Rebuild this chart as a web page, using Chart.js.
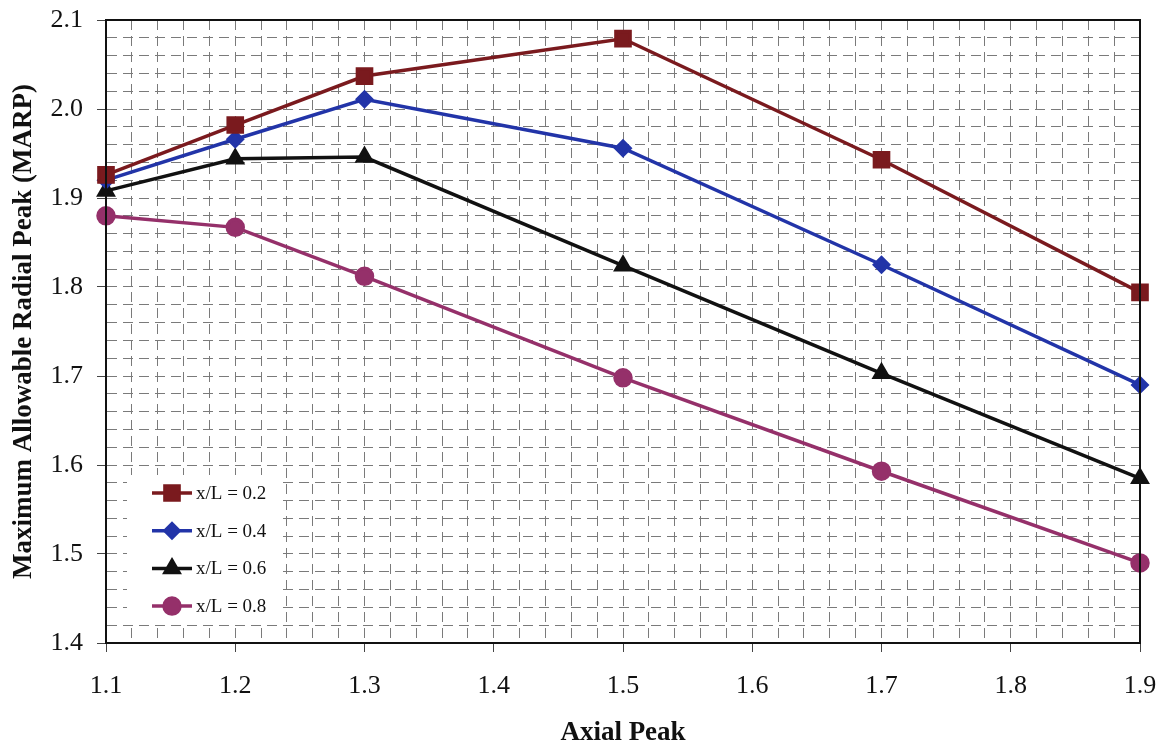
<!DOCTYPE html>
<html>
<head>
<meta charset="utf-8">
<script src="https://cdn.jsdelivr.net/npm/chart.js@4"></script>
<style>
  html, body { margin: 0; padding: 0; background: #fff; }
  #wrap { width: 1166px; height: 743px; }
</style>
</head>
<body>
<div id="wrap"><canvas id="chart"></canvas></div>
<script>
// data
const axialPeak = [1.1, 1.2, 1.3, 1.5, 1.7, 1.9];
const seriesLabels = ['x/L = 0.2', 'x/L = 0.4', 'x/L = 0.6', 'x/L = 0.8'];
const marpXL02 = [1.926, 1.982, 2.037, 2.079, 1.943, 1.794];
const marpXL04 = [1.920, 1.966, 2.011, 1.956, 1.825, 1.690];
const marpXL06 = [1.908, 1.944, 1.946, 1.824, 1.703, 1.585];
const marpXL08 = [1.880, 1.867, 1.812, 1.698, 1.593, 1.490];

const colors = ['#7a1a1e', '#2234a8', '#111111', '#95306a'];
const markers = ['rect', 'rectRot', 'triangle', 'circle'];
const radii = [10, 7, 8, 8];
const allSeries = [marpXL02, marpXL04, marpXL06, marpXL08];

const isMajor = v => Math.round(v * 100) % 10 === 0;

// black frame round the plot + legend box inside the plot
const framePlugin = {
    id: 'frame',
    afterDraw(chart) {
        const ctx = chart.ctx;
        const a = chart.chartArea;
        ctx.save();
        ctx.strokeStyle = '#111';
        ctx.lineWidth = 2;
        ctx.strokeRect(a.left, a.top, a.right - a.left, a.bottom - a.top);

        // legend
        const lx = a.left + 21, ly = a.bottom - 168;
        ctx.fillStyle = '#fff';
        ctx.fillRect(lx, ly, 156, 147);
        ctx.font = '19px "Liberation Serif"';
        ctx.textBaseline = 'middle';
        chart.data.datasets.forEach((ds, i) => {
            const y = ly + 18 + i * 37.7;
            const x0 = lx + 25, x1 = lx + 65;
            ctx.strokeStyle = ds.borderColor;
            ctx.lineWidth = 3.5;
            ctx.beginPath();
            ctx.moveTo(x0, y);
            ctx.lineTo(x1, y);
            ctx.stroke();
            Chart.helpers.drawPoint(ctx, {
                pointStyle: ds.pointStyle, radius: ds.pointRadius, rotation: 0, borderWidth: 1
            }, (x0 + x1) / 2, y);
            ctx.fillStyle = ds.borderColor;
            ctx.fill();
            ctx.fillStyle = '#111';
            ctx.fillText(ds.label, x1 + 4, y + 1);
        });
        ctx.restore();
    }
};

const ctx = document.getElementById('chart').getContext('2d');
const chart = new Chart(ctx, {
    type: 'line',
    data: {
        datasets: allSeries.map((vals, i) => ({
            label: seriesLabels[i],
            data: axialPeak.map((x, j) => ({ x: x, y: vals[j] })),
            borderColor: colors[i],
            backgroundColor: colors[i],
            pointBackgroundColor: colors[i],
            pointBorderColor: colors[i],
            pointStyle: markers[i],
            pointRadius: radii[i],
            borderWidth: 3.5,
            tension: 0,
            clip: false
        }))
    },
    options: {
        responsive: true,
        maintainAspectRatio: false,
        animation: false,
        layout: { padding: { top: 20, right: 26, left: 11, bottom: 0 } },
        plugins: { legend: { display: false }, tooltip: { enabled: false } },
        scales: {
            x: {
                type: 'linear',
                min: 1.1, max: 1.9,
                afterFit: s => { s.height = 100; s.paddingLeft = 0; s.paddingRight = 0; },
                ticks: {
                    stepSize: 0.02,
                    autoSkip: false,
                    maxRotation: 0,
                    color: '#111',
                    padding: 21,
                    font: { family: 'Liberation Serif', size: 26, lineHeight: 1 },
                    callback: v => isMajor(v) ? v.toFixed(1) : ''
                },
                grid: {
                    color: '#7a7a7a',
                    lineWidth: 1,
                    tickLength: 9,
                    tickColor: c => isMajor(c.tick.value) ? '#444' : 'rgba(0,0,0,0)'
                },
                border: { dash: [10, 6], color: '#111', width: 2 },
                title: {
                    display: true,
                    text: 'Axial Peak',
                    color: '#111',
                    font: { family: 'Liberation Serif', size: 27, weight: 'bold', lineHeight: 0.6 },
                    padding: { top: 7, bottom: 2 }
                }
            },
            y: {
                min: 1.4, max: 2.1,
                afterFit: s => { s.width = 95; s.paddingTop = 0; s.paddingBottom = 0; },
                ticks: {
                    stepSize: 0.02,
                    autoSkip: false,
                    color: '#111',
                    padding: 14,
                    font: { family: 'Liberation Serif', size: 26 },
                    callback: v => isMajor(v) ? v.toFixed(1) : ''
                },
                grid: {
                    color: '#7a7a7a',
                    lineWidth: 1,
                    tickLength: 9,
                    tickColor: c => isMajor(c.tick.value) ? '#444' : 'rgba(0,0,0,0)'
                },
                border: { dash: [10, 6], color: '#111', width: 2 },
                title: {
                    display: true,
                    text: 'Maximum Allowable Radial Peak (MARP)',
                    color: '#111',
                    font: { family: 'Liberation Serif', size: 27, weight: 'bold', lineHeight: 1 },
                    padding: { top: 0, bottom: 8 }
                }
            }
        }
    },
    plugins: [framePlugin]
});
</script>
</body>
</html>
